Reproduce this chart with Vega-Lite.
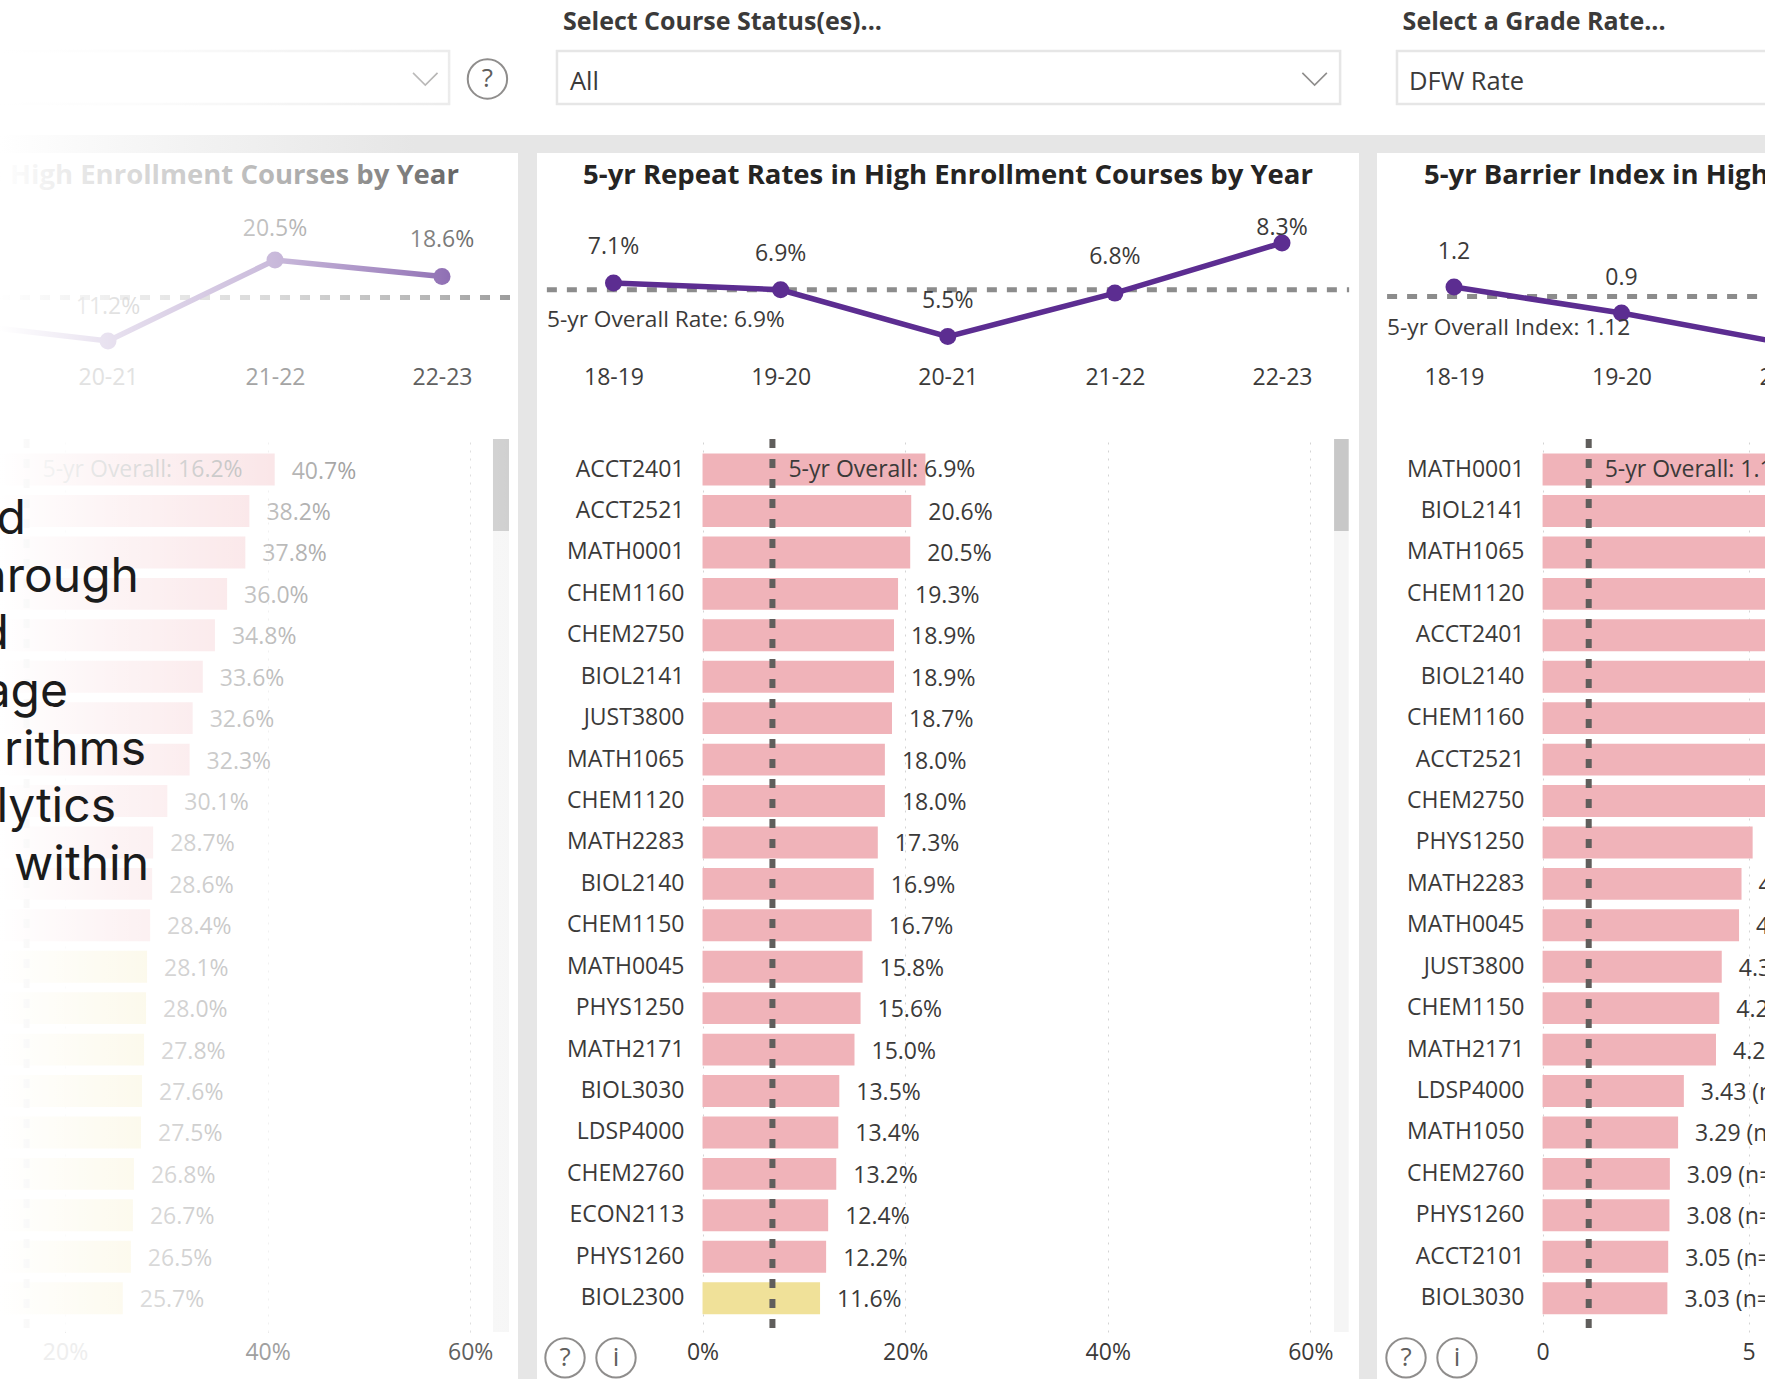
{"$schema":"https://vega.github.io/schema/vega-lite/v6.json","autosize":"none","padding":{"left":0,"top":0,"right":1765,"bottom":1379},"background":"white","bounds":"flush","spacing":0,"columns":5,"config":{"font":"Open Sans","view":{"stroke":null},"axis":{"labelFont":"Open Sans","labelFontSize":23,"labelColor":"#3b3a39","domain":false,"ticks":false,"title":null},"text":{"fontSize":23,"color":"#3b3a39"}},"concat":[
{"width":518,"height":135,"data":{"values":[{"a":1,"from":-2,"to":86.7,"top":37.8,"bottom":77,"chevron":82.1,"help":94.1,"mid":58.5}]},"resolve":{"scale":{"x":"independent","y":"independent"}},"layer":[{"layer":[{"mark":{"type":"rect","fill":"white","stroke":"#e2e2e2","strokeWidth":2.5},"encoding":{"x":{"field":"from","type":"quantitative","scale":{"domain":[0,100]},"axis":null},"x2":{"field":"to"},"y":{"field":"top","type":"quantitative","scale":{"domain":[100,0]},"axis":null},"y2":{"field":"bottom"}}},{"mark":{"type":"point","shape":"M-1,-0.5L0,0.5L1,-0.5","stroke":"#605e5c","strokeWidth":1.6,"size":600},"encoding":{"x":{"field":"chevron","type":"quantitative"},"y":{"field":"mid","type":"quantitative"}}}]},{"mark":{"type":"rect","fill":{"gradient":"linear","x1":0,"y1":0,"x2":1,"y2":0,"stops":[{"offset":0,"color":"rgba(255,255,255,1)"},{"offset":0.25,"color":"rgba(255,255,255,0.9)"},{"offset":0.6,"color":"rgba(255,255,255,0.6)"},{"offset":0.85,"color":"rgba(255,255,255,0.35)"},{"offset":1,"color":"rgba(255,255,255,0.2)"}]}},"encoding":{"x":{"datum":0,"scale":{"domain":[0,1]},"axis":null},"x2":{"datum":1}}},{"layer":[{"mark":{"type":"point","shape":"circle","stroke":"#605e5c","strokeWidth":2,"filled":false,"size":1550},"encoding":{"x":{"field":"help","type":"quantitative","scale":{"domain":[0,100]},"axis":null},"y":{"field":"mid","type":"quantitative","scale":{"domain":[100,0]},"axis":null}}},{"mark":{"type":"text","fontSize":26,"color":"#605e5c"},"encoding":{"x":{"field":"help","type":"quantitative"},"y":{"field":"mid","type":"quantitative"},"text":{"value":"?"}}}]}]},
{"width":19,"height":135,"data":{"values":[{"t":""}]},"mark":"text","encoding":{"text":{"field":"t"}}},
{"width":822,"height":135,"data":{"values":[{"heading":"Select Course Status(es)...","choice":"All","left":3.16,"headY":16.5,"from":2.43,"to":97.7,"top":37.8,"bottom":77,"textX":4,"textY":61,"chevron":94.6,"mid":58.5}]},"layer":[{"mark":{"type":"rect","fill":"white","stroke":"#e6e6e6","strokeWidth":2.5},"encoding":{"x":{"field":"from","type":"quantitative","scale":{"domain":[0,100]},"axis":null},"x2":{"field":"to"},"y":{"field":"top","type":"quantitative","scale":{"domain":[100,0]},"axis":null},"y2":{"field":"bottom"}}},{"mark":{"type":"text","align":"left","fontWeight":"bold","fontSize":25,"color":"#3b3a39"},"encoding":{"x":{"field":"left","type":"quantitative"},"y":{"field":"headY","type":"quantitative"},"text":{"field":"heading"}}},{"mark":{"type":"text","align":"left","fontSize":25.5,"color":"#3b3a39"},"encoding":{"x":{"field":"textX","type":"quantitative"},"y":{"field":"textY","type":"quantitative"},"text":{"field":"choice"}}},{"mark":{"type":"point","shape":"M-1,-0.5L0,0.5L1,-0.5","stroke":"#605e5c","strokeWidth":1.6,"size":600},"encoding":{"x":{"field":"chevron","type":"quantitative"},"y":{"field":"mid","type":"quantitative"}}}]},
{"width":18,"height":135,"data":{"values":[{"t":""}]},"mark":"text","encoding":{"text":{"field":"t"}}},
{"width":388,"height":135,"data":{"values":[{"heading":"Select a Grade Rate...","choice":"DFW Rate","left":6.6,"headY":16.5,"from":5.15,"to":104,"top":37.8,"bottom":77,"textX":8.25,"textY":61}]},"layer":[{"mark":{"type":"rect","fill":"white","stroke":"#e6e6e6","strokeWidth":2.5},"encoding":{"x":{"field":"from","type":"quantitative","scale":{"domain":[0,100]},"axis":null},"x2":{"field":"to"},"y":{"field":"top","type":"quantitative","scale":{"domain":[100,0]},"axis":null},"y2":{"field":"bottom"}}},{"mark":{"type":"text","align":"left","fontWeight":"bold","fontSize":25,"color":"#3b3a39"},"encoding":{"x":{"field":"left","type":"quantitative"},"y":{"field":"headY","type":"quantitative"},"text":{"field":"heading"}}},{"mark":{"type":"text","align":"left","fontSize":25.5,"color":"#3b3a39"},"encoding":{"x":{"field":"textX","type":"quantitative"},"y":{"field":"textY","type":"quantitative"},"text":{"field":"choice"}}}]},

{"width":518,"height":18,"data":{"values":[{"a":1}]},"mark":{"type":"rect","fill":{"gradient":"linear","x1":0,"y1":0,"x2":1,"y2":0,"stops":[{"offset":0,"color":"#ffffff"},{"offset":0.35,"color":"#f3f3f3"},{"offset":0.8,"color":"#e6e6e6"},{"offset":1,"color":"#e6e6e6"}]}},"encoding":{"x":{"datum":0,"scale":{"domain":[0,1]},"axis":null},"x2":{"datum":1}}},
{"width":19,"height":18,"view":{"fill":"#e6e6e6"},"data":{"values":[{"t":""}]},"mark":"text","encoding":{"text":{"field":"t"}}},
{"width":822,"height":18,"view":{"fill":"#e6e6e6"},"data":{"values":[{"t":""}]},"mark":"text","encoding":{"text":{"field":"t"}}},
{"width":18,"height":18,"view":{"fill":"#e6e6e6"},"data":{"values":[{"t":""}]},"mark":"text","encoding":{"text":{"field":"t"}}},
{"width":388,"height":18,"view":{"fill":"#e6e6e6"},"data":{"values":[{"t":""}]},"mark":"text","encoding":{"text":{"field":"t"}}},

{"width":518,"height":286,"resolve":{"scale":{"x":"independent"}},"layer":[
{"data":{"values":[{"start":0,"end":0.985,"overall":16.2}]},"mark":{"type":"rule","color":"#8c8c8c","strokeWidth":5,"strokeDash":[10,10]},"encoding":{"x":{"field":"start","type":"quantitative","scale":{"domain":[0,1]},"axis":null},"x2":{"field":"end"},"y":{"field":"overall","type":"quantitative","scale":{"domain":[-0.05,32.78],"nice":false,"zero":false},"axis":null}}},
{"data":{"values":[{"year":"19-20","rate":13.4,"label":"13.4%"},{"year":"20-21","rate":11.2,"label":"11.2%"},{"year":"21-22","rate":20.5,"label":"20.5%"},{"year":"22-23","rate":18.6,"label":"18.6%"}]},"layer":[{"mark":{"type":"line","color":"#5c2d91","strokeWidth":5.5,"clip":false},"encoding":{"x":{"field":"year","type":"ordinal","scale":{"domain":["19-20","20-21","21-22","22-23"],"range":[-59,442],"padding":0},"axis":{"zindex":1,"labelAngle":0,"labelPadding":-73,"labelColor":{"expr":"datum.label=='19-20'?'#ffffff':datum.label=='20-21'?'#e2e2e2':datum.label=='21-22'?'#a4a4a4':'#606060'"}},"title":null},"y":{"field":"rate","type":"quantitative","axis":null}}},{"mark":{"type":"point","filled":true,"color":"#5c2d91","opacity":1,"size":290},"encoding":{"x":{"field":"year","type":"ordinal","title":null},"y":{"field":"rate","type":"quantitative"}}},{"transform":[{"filter":"datum.year=='19-20'||datum.year=='20-21'"}],"mark":{"type":"text","dy":-34},"encoding":{"x":{"field":"year","type":"ordinal","title":null},"y":{"field":"rate","type":"quantitative"},"text":{"field":"label"}}},{"transform":[{"filter":"datum.year=='21-22'"}],"mark":{"type":"text","dy":-31},"encoding":{"x":{"field":"year","type":"ordinal","title":null},"y":{"field":"rate","type":"quantitative"},"text":{"field":"label"}}},{"transform":[{"filter":"datum.year=='22-23'"}],"mark":{"type":"text","dy":-37},"encoding":{"x":{"field":"year","type":"ordinal","title":null},"y":{"field":"rate","type":"quantitative"},"text":{"field":"label"}}}]},
{"data":{"values":[{"title":"5-yr DFW Rates in High Enrollment Courses by Year","at":0.886,"level":30.14}]},"mark":{"type":"text","align":"right","fontSize":27.5,"fontWeight":"bold","color":"#252423"},"encoding":{"x":{"field":"at","type":"quantitative","scale":{"domain":[0,1]},"axis":null},"y":{"field":"level","type":"quantitative"},"text":{"field":"title"}}},
{"data":{"values":[{"a":1}]},"mark":{"type":"rect","fill":{"gradient":"linear","x1":0,"y1":0,"x2":1,"y2":0,"stops":[{"offset":0,"color":"rgba(255,255,255,1)"},{"offset":0.21,"color":"rgba(255,255,255,0.86)"},{"offset":0.53,"color":"rgba(255,255,255,0.67)"},{"offset":0.85,"color":"rgba(255,255,255,0.34)"},{"offset":1,"color":"rgba(255,255,255,0.12)"}]}},"encoding":{"x":{"datum":0,"scale":{"domain":[0,1]},"axis":null},"x2":{"datum":1}}}]},
{"width":19,"height":286,"view":{"fill":"#e6e6e6"},"data":{"values":[{"t":""}]},"mark":"text","encoding":{"text":{"field":"t"}}},
{"width":822,"height":286,"title":{"text":"5-yr Repeat Rates in High Enrollment Courses by Year","fontSize":27.5,"fontWeight":"bold","color":"#252423","font":"Open Sans","anchor":"middle","offset":-36},"resolve":{"scale":{"x":"independent"}},"layer":[
{"data":{"values":[{"start":0.012,"end":0.988,"overall":6.9}]},"mark":{"type":"rule","color":"#8c8c8c","strokeWidth":5,"strokeDash":[10,10]},"encoding":{"x":{"field":"start","type":"quantitative","scale":{"domain":[0,1]},"axis":null},"x2":{"field":"end"},"y":{"field":"overall","type":"quantitative","scale":{"domain":[2.437,10.99],"nice":false,"zero":false},"axis":null}}},
{"data":{"values":[{"year":"18-19","rate":7.1,"label":"7.1%"},{"year":"19-20","rate":6.9,"label":"6.9%"},{"year":"20-21","rate":5.5,"label":"5.5%"},{"year":"21-22","rate":6.8,"label":"6.8%"},{"year":"22-23","rate":8.3,"label":"8.3%"}]},"layer":[{"mark":{"type":"line","color":"#5c2d91","strokeWidth":5.5},"encoding":{"x":{"field":"year","type":"ordinal","scale":{"domain":["18-19","19-20","20-21","21-22","22-23"],"range":[76.5,745],"padding":0},"axis":{"labelAngle":0,"labelPadding":-73},"title":null},"y":{"field":"rate","type":"quantitative","axis":null}}},{"mark":{"type":"point","filled":true,"color":"#5c2d91","opacity":1,"size":290},"encoding":{"x":{"field":"year","type":"ordinal","title":null},"y":{"field":"rate","type":"quantitative"}}},{"transform":[{"filter":"datum.year!='22-23'"}],"mark":{"type":"text","dy":-36},"encoding":{"x":{"field":"year","type":"ordinal","title":null},"y":{"field":"rate","type":"quantitative"},"text":{"field":"label"}}},{"transform":[{"filter":"datum.year=='22-23'"}],"mark":{"type":"text","dy":-15},"encoding":{"x":{"field":"year","type":"ordinal","title":null},"y":{"field":"rate","type":"quantitative"},"text":{"field":"label"}}},{"data":{"values":[{"year":"18-19","overall":6.9,"note":"5-yr Overall Rate: 6.9%"}]},"mark":{"type":"text","align":"left","dx":-66.5,"dy":30,"fontSize":22.7},"encoding":{"x":{"field":"year","type":"ordinal","title":null},"y":{"field":"overall","type":"quantitative"},"text":{"field":"note"}}}]}]},
{"width":18,"height":286,"view":{"fill":"#e6e6e6"},"data":{"values":[{"t":""}]},"mark":"text","encoding":{"text":{"field":"t"}}},
{"width":388,"height":286,"title":{"text":"5-yr Barrier Index in High Enrollment Courses by Year","fontSize":27.5,"fontWeight":"bold","color":"#252423","font":"Open Sans","anchor":"start","offset":-36,"dx":47},"resolve":{"scale":{"x":"independent"}},"layer":[
{"data":{"values":[{"start":0.026,"end":1,"overall":1.12}]},"mark":{"type":"rule","color":"#8c8c8c","strokeWidth":5,"strokeDash":[10,10]},"encoding":{"x":{"field":"start","type":"quantitative","scale":{"domain":[0,1]},"axis":null},"x2":{"field":"end"},"y":{"field":"overall","type":"quantitative","scale":{"domain":[-0.523,2.776],"nice":false,"zero":false},"axis":null}}},
{"data":{"values":[{"year":"18-19","rate":1.23,"label":"1.2"},{"year":"19-20","rate":0.93,"label":"0.9"},{"year":"20-21","rate":0.57,"label":"0.6"}]},"layer":[{"mark":{"type":"line","color":"#5c2d91","strokeWidth":5.5},"encoding":{"x":{"field":"year","type":"ordinal","scale":{"domain":["18-19","19-20","20-21"],"range":[77,412],"padding":0},"axis":{"labelAngle":0,"labelPadding":-73},"title":null},"y":{"field":"rate","type":"quantitative","axis":null}}},{"mark":{"type":"point","filled":true,"color":"#5c2d91","opacity":1,"size":290},"encoding":{"x":{"field":"year","type":"ordinal","title":null},"y":{"field":"rate","type":"quantitative"}}},{"mark":{"type":"text","dy":-35},"encoding":{"x":{"field":"year","type":"ordinal","title":null},"y":{"field":"rate","type":"quantitative"},"text":{"field":"label"}}},{"data":{"values":[{"year":"18-19","overall":1.12,"note":"5-yr Overall Index: 1.12"}]},"mark":{"type":"text","align":"left","dx":-67,"dy":31,"fontSize":22.7},"encoding":{"x":{"field":"year","type":"ordinal","title":null},"y":{"field":"overall","type":"quantitative"},"text":{"field":"note"}}}]}]},

{"width":518,"height":893,"resolve":{"scale":{"x":"independent","y":"independent"}},"layer":[
{"resolve":{"scale":{"y":"independent"}},"layer":[
{"data":{"values":[{"course":"c01","rate":40.7,"label":"40.7%","tier":"high","overall":16.2,"note":"5-yr Overall: 16.2%"},{"course":"c02","rate":38.2,"label":"38.2%","tier":"high"},{"course":"c03","rate":37.8,"label":"37.8%","tier":"high"},{"course":"c04","rate":36.0,"label":"36.0%","tier":"high"},{"course":"c05","rate":34.8,"label":"34.8%","tier":"high"},{"course":"c06","rate":33.6,"label":"33.6%","tier":"high"},{"course":"c07","rate":32.6,"label":"32.6%","tier":"high"},{"course":"c08","rate":32.3,"label":"32.3%","tier":"high"},{"course":"c09","rate":30.1,"label":"30.1%","tier":"high"},{"course":"c10","rate":28.7,"label":"28.7%","tier":"high"},{"course":"c11","rate":28.6,"label":"28.6%","tier":"high"},{"course":"c12","rate":28.4,"label":"28.4%","tier":"high"},{"course":"c13","rate":28.1,"label":"28.1%","tier":"mid"},{"course":"c14","rate":28.0,"label":"28.0%","tier":"mid"},{"course":"c15","rate":27.8,"label":"27.8%","tier":"mid"},{"course":"c16","rate":27.6,"label":"27.6%","tier":"mid"},{"course":"c17","rate":27.5,"label":"27.5%","tier":"mid"},{"course":"c18","rate":26.8,"label":"26.8%","tier":"mid"},{"course":"c19","rate":26.7,"label":"26.7%","tier":"mid"},{"course":"c20","rate":26.5,"label":"26.5%","tier":"mid"},{"course":"c21","rate":25.7,"label":"25.7%","tier":"mid"}]},"layer":[
{"mark":{"type":"bar","clip":true},"encoding":{"x":{"field":"rate","type":"quantitative","scale":{"domain":[13.58,64.72],"nice":false,"zero":false},"axis":{"values":[20,40,60],"format":".0f","labelExpr":"datum.label+'%'","grid":true,"gridColor":"#d4d4d4","gridDash":[2,6],"labelPadding":9,"labelColor":{"expr":"datum.value==20?'#eeeeee':datum.value==40?'#a0a0a0':'#5f5f5f'"}},"title":null},"y":{"field":"course","type":"nominal","sort":null,"scale":{"paddingInner":0.23,"paddingOuter":0.392,"align":0.45},"axis":null},"color":{"field":"tier","type":"nominal","scale":{"domain":["high","mid"],"range":["#f0b3b9","#f0e199"]},"legend":null}}},
{"mark":{"type":"text","align":"left","dx":17,"dy":2},"encoding":{"x":{"field":"rate","type":"quantitative","title":null},"y":{"field":"course","type":"nominal","sort":null},"text":{"field":"label"}}},
{"transform":[{"filter":"datum.overall"}],"mark":{"type":"rule","color":"#605e5c","strokeWidth":6,"strokeDash":[9,11]},"encoding":{"x":{"field":"overall","type":"quantitative","title":null}}},
{"transform":[{"filter":"datum.overall"}],"mark":{"type":"text","align":"left","dx":16,"clip":true},"encoding":{"x":{"field":"overall","type":"quantitative","title":null},"y":{"field":"course","type":"nominal","sort":null},"text":{"field":"note"}}}]},
{"layer":[{"data":{"values":[{"start":0,"end":1}]},"mark":{"type":"rect","color":"#f5f5f5"},"encoding":{"x":{"datum":62.25,"title":null},"x2":{"datum":63.83},"y":{"field":"start","type":"quantitative","scale":{"domain":[1,0]},"axis":null},"y2":{"field":"end"}}},
{"data":{"values":[{"start":0,"end":0.103}]},"mark":{"type":"rect","color":"#c8c8c8"},"encoding":{"x":{"datum":62.25,"title":null},"x2":{"datum":63.83},"y":{"field":"start","type":"quantitative","axis":null},"y2":{"field":"end"}}}]}]},
{"data":{"values":[{"a":1}]},"mark":{"type":"rect","fill":{"gradient":"linear","x1":0,"y1":0,"x2":1,"y2":0,"stops":[{"offset":0,"color":"rgba(255,255,255,1)"},{"offset":0.21,"color":"rgba(255,255,255,0.86)"},{"offset":0.53,"color":"rgba(255,255,255,0.67)"},{"offset":0.85,"color":"rgba(255,255,255,0.34)"},{"offset":1,"color":"rgba(255,255,255,0.12)"}]}},"encoding":{"x":{"datum":0,"scale":{"domain":[0,1]},"axis":null},"x2":{"datum":1}}},
{"data":{"values":[{"line":"d","reach":26,"order":1},{"line":"hrough","reach":139,"order":2},{"line":"d","reach":9,"order":3},{"line":"age","reach":68,"order":4},{"line":"rithms","reach":146,"order":5},{"line":"lytics","reach":116,"order":6},{"line":"within","reach":149,"order":7}]},"mark":{"type":"text","align":"right","fontSize":48,"font":"Inter","color":"#1b1b1b"},"encoding":{"x":{"field":"reach","type":"quantitative","scale":{"domain":[0,518]},"axis":null},"y":{"field":"order","type":"ordinal","scale":{"range":[81,427],"padding":0},"axis":null},"text":{"field":"line"}}}]},
{"width":19,"height":893,"view":{"fill":"#e6e6e6"},"data":{"values":[{"t":""}]},"mark":"text","encoding":{"text":{"field":"t"}}},
{"width":822,"height":893,"resolve":{"scale":{"y":"independent"}},"layer":[
{"data":{"values":[{"course":"ACCT2401","rate":22.0,"label":"","tier":"high","overall":6.9,"note":"5-yr Overall: 6.9%"},{"course":"ACCT2521","rate":20.6,"label":"20.6%","tier":"high"},{"course":"MATH0001","rate":20.5,"label":"20.5%","tier":"high"},{"course":"CHEM1160","rate":19.3,"label":"19.3%","tier":"high"},{"course":"CHEM2750","rate":18.9,"label":"18.9%","tier":"high"},{"course":"BIOL2141","rate":18.9,"label":"18.9%","tier":"high"},{"course":"JUST3800","rate":18.7,"label":"18.7%","tier":"high"},{"course":"MATH1065","rate":18.0,"label":"18.0%","tier":"high"},{"course":"CHEM1120","rate":18.0,"label":"18.0%","tier":"high"},{"course":"MATH2283","rate":17.3,"label":"17.3%","tier":"high"},{"course":"BIOL2140","rate":16.9,"label":"16.9%","tier":"high"},{"course":"CHEM1150","rate":16.7,"label":"16.7%","tier":"high"},{"course":"MATH0045","rate":15.8,"label":"15.8%","tier":"high"},{"course":"PHYS1250","rate":15.6,"label":"15.6%","tier":"high"},{"course":"MATH2171","rate":15.0,"label":"15.0%","tier":"high"},{"course":"BIOL3030","rate":13.5,"label":"13.5%","tier":"high"},{"course":"LDSP4000","rate":13.4,"label":"13.4%","tier":"high"},{"course":"CHEM2760","rate":13.2,"label":"13.2%","tier":"high"},{"course":"ECON2113","rate":12.4,"label":"12.4%","tier":"high"},{"course":"PHYS1260","rate":12.2,"label":"12.2%","tier":"high"},{"course":"BIOL2300","rate":11.6,"label":"11.6%","tier":"mid"}]},"layer":[
{"mark":{"type":"bar","clip":true},"encoding":{"x":{"field":"rate","type":"quantitative","scale":{"domain":[-16.34,64.8],"nice":false,"zero":false},"axis":{"values":[0,20,40,60],"format":".0f","labelExpr":"datum.label+'%'","grid":true,"gridColor":"#d4d4d4","gridDash":[2,6],"labelPadding":9},"title":null},"y":{"field":"course","type":"nominal","sort":null,"scale":{"paddingInner":0.23,"paddingOuter":0.392,"align":0.45},"axis":{"labelPadding":-147,"labelOverlap":false,"title":null}},"color":{"field":"tier","type":"nominal","scale":{"domain":["high","mid"],"range":["#f0b3b9","#f0e199"]},"legend":null}}},
{"mark":{"type":"text","align":"left","dx":17,"dy":2},"encoding":{"x":{"field":"rate","type":"quantitative","title":null},"y":{"field":"course","type":"nominal","sort":null},"text":{"field":"label"}}},
{"transform":[{"filter":"datum.overall"}],"mark":{"type":"rule","color":"#605e5c","strokeWidth":6,"strokeDash":[9,11]},"encoding":{"x":{"field":"overall","type":"quantitative","title":null}}},
{"transform":[{"filter":"datum.overall"}],"mark":{"type":"text","align":"left","dx":16},"encoding":{"x":{"field":"overall","type":"quantitative","title":null},"y":{"field":"course","type":"nominal","sort":null},"text":{"field":"note"}}}]},
{"layer":[{"data":{"values":[{"start":0,"end":1}]},"mark":{"type":"rect","color":"#f5f5f5"},"encoding":{"x":{"datum":62.34,"title":null},"x2":{"datum":63.78},"y":{"field":"start","type":"quantitative","scale":{"domain":[1,0]},"axis":null},"y2":{"field":"end"}}},
{"data":{"values":[{"start":0,"end":0.103}]},"mark":{"type":"rect","color":"#c8c8c8"},"encoding":{"x":{"datum":62.34,"title":null},"x2":{"datum":63.78},"y":{"field":"start","type":"quantitative","axis":null},"y2":{"field":"end"}}}]}]},
{"width":18,"height":893,"view":{"fill":"#e6e6e6"},"data":{"values":[{"t":""}]},"mark":"text","encoding":{"text":{"field":"t"}}},
{"width":388,"height":893,"data":{"values":[{"course":"MATH0001","rate":8.0,"label":"","tier":"high","overall":1.12,"note":"5-yr Overall: 1.12"},{"course":"BIOL2141","rate":7.6,"label":"","tier":"high"},{"course":"MATH1065","rate":7.2,"label":"","tier":"high"},{"course":"CHEM1120","rate":6.9,"label":"","tier":"high"},{"course":"ACCT2401","rate":6.6,"label":"","tier":"high"},{"course":"BIOL2140","rate":6.3,"label":"","tier":"high"},{"course":"CHEM1160","rate":6.0,"label":"","tier":"high"},{"course":"ACCT2521","rate":5.8,"label":"","tier":"high"},{"course":"CHEM2750","rate":5.5,"label":"","tier":"high"},{"course":"PHYS1250","rate":5.1,"label":"","tier":"high"},{"course":"MATH2283","rate":4.83,"label":"4.83 (n=","tier":"high"},{"course":"MATH0045","rate":4.77,"label":"4.77 (n=","tier":"high"},{"course":"JUST3800","rate":4.35,"label":"4.35 (n=","tier":"high"},{"course":"CHEM1150","rate":4.29,"label":"4.29 (n=","tier":"high"},{"course":"MATH2171","rate":4.21,"label":"4.21 (n=","tier":"high"},{"course":"LDSP4000","rate":3.43,"label":"3.43 (n=","tier":"high"},{"course":"MATH1050","rate":3.29,"label":"3.29 (n=","tier":"high"},{"course":"CHEM2760","rate":3.09,"label":"3.09 (n=","tier":"high"},{"course":"PHYS1260","rate":3.08,"label":"3.08 (n=","tier":"high"},{"course":"ACCT2101","rate":3.05,"label":"3.05 (n=","tier":"high"},{"course":"BIOL3030","rate":3.03,"label":"3.03 (n=","tier":"high"}]},"layer":[
{"mark":{"type":"bar","clip":true},"encoding":{"x":{"field":"rate","type":"quantitative","scale":{"domain":[-4.02,5.4],"nice":false,"zero":false},"axis":{"values":[0,5],"format":".0f","grid":true,"gridColor":"#d4d4d4","gridDash":[2,6],"labelPadding":9},"title":null},"y":{"field":"course","type":"nominal","sort":null,"scale":{"paddingInner":0.23,"paddingOuter":0.392,"align":0.45},"axis":{"labelPadding":-147,"labelOverlap":false,"title":null}},"color":{"field":"tier","type":"nominal","scale":{"domain":["high","mid"],"range":["#f0b3b9","#f0e199"]},"legend":null}}},
{"mark":{"type":"text","align":"left","dx":17,"dy":2,"clip":true},"encoding":{"x":{"field":"rate","type":"quantitative","title":null},"y":{"field":"course","type":"nominal","sort":null},"text":{"field":"label"}}},
{"transform":[{"filter":"datum.overall"}],"mark":{"type":"rule","color":"#605e5c","strokeWidth":6,"strokeDash":[9,11]},"encoding":{"x":{"field":"overall","type":"quantitative","title":null}}},
{"transform":[{"filter":"datum.overall"}],"mark":{"type":"text","align":"left","dx":16,"clip":true},"encoding":{"x":{"field":"overall","type":"quantitative","title":null},"y":{"field":"course","type":"nominal","sort":null},"text":{"field":"note"}}}]},

{"width":518,"height":47,"data":{"values":[{"t":""}]},"mark":"text","encoding":{"text":{"field":"t"}}},
{"width":19,"height":47,"view":{"fill":"#e6e6e6"},"data":{"values":[{"t":""}]},"mark":"text","encoding":{"text":{"field":"t"}}},
{"width":822,"height":47,"data":{"values":[{"icon":"?","level":0.45},{"icon":"i","level":0.45}]},"layer":[{"mark":{"type":"point","shape":"circle","filled":false,"stroke":"#605e5c","strokeWidth":2,"size":1550},"encoding":{"x":{"field":"icon","type":"nominal","sort":null,"scale":{"domain":["?","i"],"range":[28,79],"padding":0},"axis":null},"y":{"field":"level","type":"quantitative","scale":{"domain":[0,1]},"axis":null}}},{"mark":{"type":"text","fontSize":26,"color":"#605e5c"},"encoding":{"x":{"field":"icon","type":"nominal","sort":null},"y":{"field":"level","type":"quantitative"},"text":{"field":"icon"}}}]},
{"width":18,"height":47,"view":{"fill":"#e6e6e6"},"data":{"values":[{"t":""}]},"mark":"text","encoding":{"text":{"field":"t"}}},
{"width":388,"height":47,"data":{"values":[{"icon":"?","level":0.45},{"icon":"i","level":0.45}]},"layer":[{"mark":{"type":"point","shape":"circle","filled":false,"stroke":"#605e5c","strokeWidth":2,"size":1550},"encoding":{"x":{"field":"icon","type":"nominal","sort":null,"scale":{"domain":["?","i"],"range":[29,80],"padding":0},"axis":null},"y":{"field":"level","type":"quantitative","scale":{"domain":[0,1]},"axis":null}}},{"mark":{"type":"text","fontSize":26,"color":"#605e5c"},"encoding":{"x":{"field":"icon","type":"nominal","sort":null},"y":{"field":"level","type":"quantitative"},"text":{"field":"icon"}}}]}
]}
